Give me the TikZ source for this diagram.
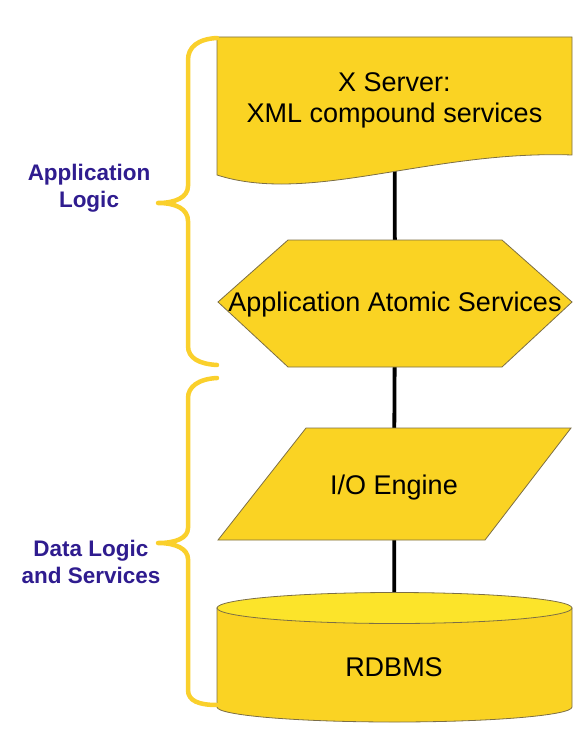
\documentclass[tikz,border=0pt]{standalone}
\usepackage{fontspec}
\setmainfont{Liberation Sans}
\definecolor{boxfill}{HTML}{FAD323}
\definecolor{topfill}{HTML}{FCE42A}
\definecolor{boxline}{HTML}{7C6E45}
\definecolor{bracecol}{HTML}{FAD02C}
\definecolor{labelcol}{HTML}{2F1C8F}
\tikzset{
  shapebox/.style={fill=boxfill, draw=boxline, line width=0.8pt, line join=miter},
  toplid/.style={fill=topfill, draw=boxline, line width=0.8pt},
  link/.style={line width=3.8pt, black},
  bracepath/.style={draw=bracecol, line width=4.5pt, line cap=round, line join=round},
  boxtext/.style={font=\fontsize{27}{31}\selectfont, align=center, inner sep=0pt},
  sidelabel/.style={font=\fontsize{22.5}{27}\selectfont\bfseries, text=labelcol, align=center, inner sep=0pt}
}
\begin{document}
\begin{tikzpicture}[x=1pt, y=-1pt]
\useasboundingbox (0,0) rectangle (582,743);
% anchor points of the four shapes
\coordinate (doc) at (394.5,97.5);
\coordinate (hex) at (395,302);
\coordinate (io)  at (394,485);
\coordinate (db)  at (394.5,660);
% connectors (behind shapes)
\draw[link] (doc) -- (hex);
\draw[link] (hex) -- (io);
\draw[link] (io) -- (db);
% document shape
\path[shapebox] (217,37) -- (572,37) -- (572,155)
  .. controls (430,150) and (310,205) .. (217,175) -- cycle;
% hexagon
\path[shapebox] (288,240) -- (502,240) -- (572,302) -- (502,367) -- (288,367) -- (218,302) -- cycle;
% parallelogram
\path[shapebox] (306,428) -- (571,428) -- (485,540) -- (218,540) -- cycle;
% cylinder
\path[shapebox] (217,608) -- (217,707) arc[start angle=180, end angle=360, x radius=177.5, y radius=-15] -- (572,608) -- cycle;
\path[toplid] (394.5,608) ellipse[x radius=177.5, y radius=15.5];
% texts
\node[boxtext] (t1) at (394.5,100.5) {X Server:\\XML compound services};
\node[boxtext] (t2) at (395,305) {Application Atomic Services};
\node[boxtext] (t3) at (394,488) {I/O Engine};
\node[boxtext] (t4) at (394,667) {RDBMS};
% braces
\path[bracepath] (217,38) .. controls (198,39) and (188,47) .. (188,60) -- (188,186)
  .. controls (188,197) and (176,203) .. (158,203)
  .. controls (176,203) and (188,209) .. (188,221) -- (188,346)
  .. controls (188,358) and (199,364) .. (217,365);
\path[bracepath] (217,378) .. controls (198,379) and (188,387) .. (188,398) -- (188,528)
  .. controls (188,538) and (176,543) .. (158,543)
  .. controls (176,543) and (188,549) .. (188,559) -- (188,690)
  .. controls (188,701) and (199,705) .. (217,705);
% side labels
\node[sidelabel] (l1) at (89,188) {Application\\Logic};
\node[sidelabel] (l2) at (91,562) {Data Logic\\and Services};
\end{tikzpicture}
\end{document}
